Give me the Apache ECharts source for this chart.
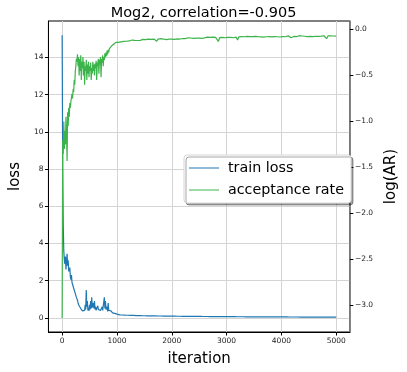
<!DOCTYPE html>
<html lang="en">
<head>
<meta charset="UTF-8">
<title>Mog2</title>
<script src="https://cdn.jsdelivr.net/npm/echarts@6/dist/echarts.min.js"></script>
<style>
  html, body { margin: 0; padding: 0; background: #fff; }
  #chart { width: 407px; height: 372px; }
</style>
</head>
<body>
<div id="chart"></div>
<script>
// loss, every 10 iterations from 0 to 1000
const lossEarly = [
  15.2, 8.1, 5.0, 3.6, 3.1, 2.9, 3.3, 2.6, 3.0, 3.45,
  2.8, 3.1, 2.5, 2.4, 2.7, 2.2, 2.05, 2.3, 1.9, 2.0,
  1.7, 1.75, 1.5, 1.6, 1.3, 1.2, 1.1, 1.0, 0.95, 0.8,
  0.75, 0.65, 0.6, 0.55, 0.5, 0.45, 0.5, 0.38, 0.42, 0.35,
  0.48, 0.4, 0.7, 0.45, 1.5, 0.6, 0.9, 0.4, 0.55, 0.38,
  0.7, 0.45, 0.9, 0.5, 1.1, 0.55, 0.45, 0.8, 0.5, 0.9,
  0.45, 0.6, 0.4, 0.5, 0.42, 0.65, 0.45, 0.5, 0.38, 0.55,
  0.4, 0.48, 0.35, 0.6, 0.4, 0.5, 0.38, 1.1, 0.5, 0.9,
  0.45, 0.35, 0.6, 0.35, 0.8, 0.4, 0.3, 0.45, 0.3, 0.38,
  0.28, 0.35, 0.27, 0.3, 0.25, 0.32, 0.24, 0.28, 0.22, 0.25,
  0.2
];
// loss, every 25 iterations from 1025 to 5000
const lossLate = [
  0.17, 0.16, 0.15, 0.155, 0.14, 0.145, 0.135, 0.14, 0.13, 0.135,
  0.128, 0.132, 0.125, 0.12, 0.127, 0.118, 0.122, 0.115, 0.12, 0.113,
  0.118, 0.11, 0.114, 0.108, 0.112, 0.105, 0.11, 0.104, 0.108, 0.1,
  0.106, 0.099, 0.103, 0.097, 0.101, 0.095, 0.099, 0.094, 0.098, 0.092,
  0.096, 0.09, 0.094, 0.088, 0.092, 0.087, 0.091, 0.085, 0.089, 0.084,
  0.088, 0.082, 0.086, 0.08, 0.085, 0.079, 0.083, 0.078, 0.082, 0.077,
  0.081, 0.075, 0.079, 0.074, 0.078, 0.072, 0.077, 0.071, 0.075, 0.07,
  0.074, 0.069, 0.073, 0.068, 0.072, 0.067, 0.09, 0.066, 0.07, 0.065,
  0.069, 0.064, 0.068, 0.063, 0.067, 0.062, 0.066, 0.061, 0.065, 0.06,
  0.064, 0.059, 0.063, 0.058, 0.062, 0.058, 0.061, 0.057, 0.06, 0.056,
  0.06, 0.055, 0.059, 0.054, 0.058, 0.054, 0.057, 0.053, 0.056, 0.052,
  0.056, 0.052, 0.055, 0.051, 0.054, 0.05, 0.053, 0.05, 0.052, 0.049,
  0.053, 0.049, 0.052, 0.048, 0.051, 0.047, 0.05, 0.047, 0.049, 0.046,
  0.05, 0.046, 0.049, 0.045, 0.048, 0.045, 0.047, 0.044, 0.047, 0.043,
  0.047, 0.043, 0.046, 0.042, 0.045, 0.042, 0.044, 0.041, 0.044, 0.04,
  0.044, 0.04, 0.043, 0.04, 0.042, 0.039, 0.042, 0.038, 0.041, 0.045
];
// log(acceptance rate), every 10 iterations from 0 to 1000
const arEarly = [
  -3.135, -1.2, -1.35, -1.0, -1.3, -1.1, -1.25, -0.95, -1.15, -1.43,
  -0.9, -1.05, -0.85, -0.95, -0.8, -0.85, -0.78, -0.8, -0.7, -0.75,
  -0.65, -0.68, -0.55, -0.6, -0.45, -0.4, -0.32, -0.35, -0.27, -0.4,
  -0.3, -0.5, -0.32, -0.45, -0.28, -0.55, -0.35, -0.42, -0.3, -0.5,
  -0.35, -0.6, -0.4, -0.45, -0.33, -0.55, -0.38, -0.48, -0.35, -0.52,
  -0.4, -0.45, -0.36, -0.55, -0.42, -0.48, -0.35, -0.45, -0.38, -0.5,
  -0.37, -0.42, -0.34, -0.55, -0.36, -0.4, -0.32, -0.48, -0.33, -0.38,
  -0.3, -0.52, -0.32, -0.36, -0.28, -0.4, -0.3, -0.33, -0.26, -0.3,
  -0.25, -0.29, -0.23, -0.27, -0.22, -0.25, -0.21, -0.23, -0.19, -0.22,
  -0.18, -0.2, -0.17, -0.19, -0.16, -0.18, -0.15, -0.16, -0.14, -0.15,
  -0.14
];
// log(acceptance rate), every 25 iterations from 1025 to 5000
const arLate = [
  -0.14, -0.13, -0.135, -0.125, -0.13, -0.12, -0.128, -0.118, -0.125, -0.12,
  -0.115, -0.122, -0.118, -0.112, -0.12, -0.11, -0.118, -0.115, -0.108, -0.116,
  -0.11, -0.118, -0.105, -0.112, -0.108, -0.115, -0.104, -0.11, -0.128, -0.105,
  -0.108, -0.1, -0.112, -0.104, -0.098, -0.11, -0.102, -0.106, -0.097, -0.105,
  -0.1, -0.108, -0.096, -0.102, -0.094, -0.104, -0.12, -0.098, -0.092, -0.1,
  -0.095, -0.09, -0.1, -0.093, -0.088, -0.097, -0.09, -0.095, -0.087, -0.094,
  -0.089, -0.096, -0.085, -0.092, -0.088, -0.084, -0.094, -0.086, -0.09, -0.083,
  -0.09, -0.086, -0.082, -0.13, -0.088, -0.08, -0.087, -0.083, -0.09, -0.081,
  -0.086, -0.079, -0.085, -0.082, -0.09, -0.078, -0.084, -0.115, -0.08, -0.085,
  -0.077, -0.083, -0.079, -0.086, -0.076, -0.082, -0.078, -0.085, -0.077, -0.081,
  -0.075, -0.082, -0.078, -0.072, -0.08, -0.076, -0.084, -0.074, -0.079, -0.073,
  -0.078, -0.074, -0.081, -0.072, -0.077, -0.07, -0.079, -0.075, -0.082, -0.073,
  -0.077, -0.071, -0.079, -0.074, -0.069, -0.078, -0.09, -0.072, -0.076, -0.07,
  -0.078, -0.073, -0.068, -0.076, -0.071, -0.08, -0.074, -0.069, -0.077, -0.072,
  -0.075, -0.07, -0.078, -0.068, -0.074, -0.071, -0.076, -0.066, -0.073, -0.06,
  -0.068, -0.075, -0.1, -0.07, -0.076, -0.069, -0.074, -0.071, -0.077, -0.072
];
const xTicks = [0, 1000, 2000, 3000, 4000, 5000];
const lossTicks = [0, 2, 4, 6, 8, 10, 12, 14];
const arTicks = [-3.0, -2.5, -2.0, -1.5, -1.0, -0.5, 0.0];

// x positions of the samples
const itersEarly = lossEarly.map((_, i) => i * 10);
const itersLate = lossLate.map((_, i) => 1025 + i * 25);
const pairs = (xs1, ys1, xs2, ys2) =>
  xs1.map((x, i) => [x, ys1[i]]).concat(xs2.map((x, i) => [x, ys2[i]]));

const font = 'DejaVu Sans';
const minus = v => (v < 0 ? '\u2212' + Math.abs(v).toFixed(1) : v.toFixed(1));

const chart = echarts.init(document.getElementById('chart'));
chart.setOption({
  animation: false,
  backgroundColor: '#fff',
  textStyle: { fontFamily: font },
  title: {
    text: 'Mog2, correlation=-0.905',
    left: 'center', top: 1,
    textStyle: { fontFamily: font, fontSize: 14.5, fontWeight: 'normal', color: '#000' }
  },
  grid: {
    left: 37, right: 45, top: 21, bottom: 34,
    show: true, borderColor: '#000', borderWidth: 1, backgroundColor: '#fff'
  },
  legend: {
    orient: 'vertical',
    left: 184, top: 155,
    icon: 'path://M0,0H30V1H0Z',
    itemWidth: 30, itemHeight: 1.3, itemGap: 8,
    padding: [6, 7, 6, 5],
    backgroundColor: '#fff',
    borderColor: '#d6d6d6', borderWidth: 1, borderRadius: 3,
    shadowColor: 'rgba(0,0,0,0.35)', shadowBlur: 0, shadowOffsetX: 2, shadowOffsetY: 2,
    textStyle: { fontFamily: font, fontSize: 14.3, color: '#000', padding: [0, 0, 0, 4] },
    data: ['train loss', 'acceptance rate']
  },
  xAxis: {
    type: 'value', min: -250, max: 5250,
    name: 'iteration', nameLocation: 'middle', nameGap: 20,
    nameTextStyle: { fontFamily: font, fontSize: 15, color: '#000' },
    axisLine: { show: true, onZero: false, lineStyle: { color: '#000', width: 1 } },
    axisTick: { show: true, customValues: xTicks, length: 3.5, lineStyle: { color: '#000' } },
    axisLabel: { customValues: xTicks, fontSize: 7.5, color: '#222', margin: 5, formatter: v => String(v) },
    splitLine: { show: true, lineStyle: { color: '#d4d4d4', width: 1 } }
  },
  yAxis: [
    {
      type: 'value', min: -0.76, max: 15.96, position: 'left',
      name: 'loss', nameLocation: 'middle', nameGap: 21, nameRotate: 90,
      nameTextStyle: { fontFamily: font, fontSize: 15, color: '#000' },
      axisLine: { show: true, onZero: false, lineStyle: { color: '#000', width: 1 } },
      axisTick: { show: true, customValues: lossTicks, length: 3.5, lineStyle: { color: '#000' } },
      axisLabel: { customValues: lossTicks, fontSize: 7.5, color: '#222', margin: 5 },
      splitLine: { show: true, lineStyle: { color: '#d4d4d4', width: 1 } }
    },
    {
      type: 'value', min: -3.288, max: 0.092, position: 'right',
      name: 'log(AR)', nameLocation: 'middle', nameGap: 31, nameRotate: 90,
      nameTextStyle: { fontFamily: font, fontSize: 15, color: '#000' },
      axisLine: { show: true, onZero: false, lineStyle: { color: '#808080', width: 1.6 } },
      axisTick: { show: true, customValues: arTicks, length: 3.5, lineStyle: { color: '#000' } },
      axisLabel: { customValues: arTicks, fontSize: 7.5, color: '#222', margin: 5, formatter: minus },
      splitLine: { show: false }
    }
  ],
  series: [
    {
      name: 'train loss', type: 'line', yAxisIndex: 0,
      data: pairs(itersEarly, lossEarly, itersLate, lossLate),
      symbol: 'none', color: '#1f77b4',
      lineStyle: { width: 1.2, color: '#1f77b4' }
    },
    {
      name: 'acceptance rate', type: 'line', yAxisIndex: 1,
      data: pairs(itersEarly, arEarly, itersLate, arLate),
      symbol: 'none', color: '#3cb44b',
      lineStyle: { width: 1.2, color: '#3cb44b' }
    }
  ]
});
</script>
</body>
</html>
